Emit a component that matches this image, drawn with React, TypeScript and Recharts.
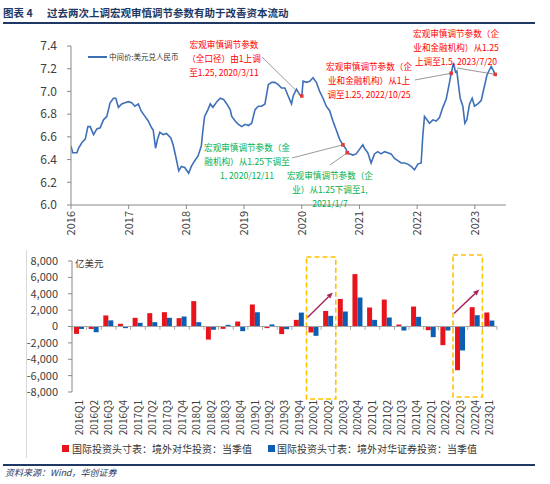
import React from "react";
import {
  LineChart,
  Line,
  BarChart,
  Bar,
  XAxis,
  YAxis,
  ReferenceLine,
  ReferenceDot,
  ReferenceArea,
} from "recharts";

const FONT = '"Noto Sans CJK SC", "Noto Sans", sans-serif';
const NAVY = "#1f3864";
const RED = "#e8141c";
const BLUE = "#0b5fb3";
const LINE_BLUE = "#3e70b8";
const AXIS = "#898989";
const TEXT = "#404040";

// 中间价:美元兑人民币 (t = position on the chart's year axis)
const fxTime = [
  2016.0, 2016.029, 2016.103, 2016.132, 2016.19, 2016.247, 2016.293, 2016.333, 2016.391, 2016.448,
  2016.506, 2016.563, 2016.621, 2016.678, 2016.736, 2016.776, 2016.822, 2016.879, 2016.937, 2016.994,
  2017.052, 2017.109, 2017.167, 2017.213, 2017.282, 2017.339, 2017.397, 2017.425, 2017.466, 2017.5,
  2017.54, 2017.598, 2017.655, 2017.73, 2017.77, 2017.81, 2017.868, 2017.914, 2017.971, 2018.04,
  2018.086, 2018.144, 2018.201, 2018.259, 2018.287, 2018.316, 2018.374, 2018.414, 2018.46, 2018.529,
  2018.586, 2018.644, 2018.701, 2018.759, 2018.787, 2018.845, 2018.902, 2018.96, 2019.017, 2019.075,
  2019.132, 2019.19, 2019.247, 2019.305, 2019.362, 2019.42, 2019.477, 2019.534, 2019.592, 2019.649,
  2019.707, 2019.764, 2019.822, 2019.851, 2019.908, 2019.966, 2020.0, 2020.023, 2020.08, 2020.138,
  2020.195, 2020.253, 2020.31, 2020.368, 2020.425, 2020.483, 2020.54, 2020.598, 2020.655, 2020.713,
  2020.77, 2020.787, 2020.885, 2020.942, 2021.0, 2021.058, 2021.087, 2021.145, 2021.202, 2021.26,
  2021.318, 2021.376, 2021.434, 2021.491, 2021.549, 2021.607, 2021.665, 2021.723, 2021.78, 2021.838,
  2021.896, 2021.954, 2022.012, 2022.069, 2022.098, 2022.127, 2022.156, 2022.214, 2022.272, 2022.329,
  2022.387, 2022.445, 2022.503, 2022.561, 2022.59, 2022.63, 2022.665, 2022.688, 2022.711, 2022.746,
  2022.792, 2022.827, 2022.861, 2022.908, 2022.954, 2022.994, 2023.052, 2023.11, 2023.168, 2023.208,
  2023.243, 2023.283, 2023.324, 2023.353,
];
const fxRate = [
  6.52, 6.46, 6.46, 6.5, 6.55, 6.58, 6.69, 6.69, 6.62, 6.67,
  6.68, 6.75, 6.78, 6.9, 6.94, 6.94, 6.86, 6.89, 6.9, 6.91,
  6.9, 6.87, 6.89, 6.83, 6.78, 6.74, 6.68, 6.66, 6.5, 6.58,
  6.64, 6.62, 6.63, 6.59, 6.53, 6.44, 6.3, 6.34, 6.33, 6.28,
  6.34, 6.39, 6.43, 6.52, 6.66, 6.78, 6.84, 6.89, 6.86, 6.91,
  6.94, 6.93, 6.89, 6.84, 6.78, 6.74, 6.71, 6.69, 6.71, 6.7,
  6.72, 6.84, 6.87, 6.87, 6.89, 7.06, 7.08, 7.08, 7.06, 7.03,
  7.03, 6.96, 6.89, 6.96, 7.02, 6.97, 6.96, 7.09, 7.08, 7.09,
  7.12, 7.08, 7.0, 6.94, 6.87, 6.83, 6.74, 6.66, 6.58, 6.53,
  6.49, 6.46, 6.44, 6.45, 6.49, 6.53, 6.5, 6.46, 6.37, 6.45,
  6.47, 6.45, 6.47, 6.46, 6.45, 6.41, 6.39, 6.37, 6.37, 6.36,
  6.34, 6.31, 6.36, 6.37, 6.61, 6.78, 6.76, 6.72, 6.75, 6.74,
  6.77, 6.86, 6.93, 7.08, 7.16, 7.25, 7.17, 7.18, 7.08, 6.94,
  6.87, 6.72, 6.75, 6.89, 6.94, 6.87, 6.89, 6.92, 7.05, 7.14,
  7.18, 7.22, 7.18, 7.15,
];
const yearTicks = [2016, 2017, 2018, 2019, 2020, 2021, 2022, 2023];
const rateTicks = [6.0, 6.2, 6.4, 6.6, 6.8, 7.0, 7.2, 7.4];

// 国际投资头寸表, 亿美元
const quarters = [
  "2016Q1", "2016Q2", "2016Q3", "2016Q4", "2017Q1", "2017Q2", "2017Q3", "2017Q4",
  "2018Q1", "2018Q2", "2018Q3", "2018Q4", "2019Q1", "2019Q2", "2019Q3", "2019Q4",
  "2020Q1", "2020Q2", "2020Q3", "2020Q4", "2021Q1", "2021Q2", "2021Q3", "2021Q4",
  "2022Q1", "2022Q2", "2022Q3", "2022Q4", "2023Q1",
];
const inwardInvest = [
  -900, -300, 1350, 330, 1060, 1630, 1750, 1020, 3100, -1600, -290, 610, 2690, -200, -930, 810,
  -730, 1900, 3370, 6400, 2320, 3290, 240, 2440, -450, -2280, -5340, 2360, 1710,
];
const inwardPortfolio = [
  -300, -700, 750, -200, 450, 530, 1060, 1220, 530, -400, 200, -570, 1750, 250, -330, 1700,
  -1140, 1300, 1830, 3540, 810, 1100, -490, 1180, -1300, -490, -2930, 1380, 730,
];
const flowTicks = [-8000, -6000, -4000, -2000, 0, 2000, 4000, 6000, 8000];

// annotations: text anchor, leader start, marked point (chart coordinates)
const notes = [
  {
    lines: ["宏观审慎调节参数", "（全口径）由1上调", "至1.25, 2020/3/11"],
    color: "#ff0000",
    text: [2018.652, 7.418],
    from: [2019.311, 7.303],
    point: [2020.0, 6.96],
  },
  {
    lines: ["宏观审慎调节参数（金", "融机构）从1.25下调至", "1, 2020/12/11"],
    color: "#00b050",
    text: [2019.051, 6.511],
    from: [2019.831, 6.414],
    point: [2020.713, 6.53],
  },
  {
    lines: ["宏观审慎调节参数（企", "业）从1.25下调至1,", "2021/1/7"],
    color: "#00b050",
    text: [2020.489, 6.264],
    from: [2020.489, 6.352],
    point: [2020.787, 6.46],
  },
  {
    lines: ["宏观审慎调节参数（企", "业和金融机构）从1上", "调至1.25, 2022/10/25"],
    color: "#ff0000",
    text: [2021.166, 7.224],
    from: [2021.963, 7.101],
    point: [2022.59, 7.16],
  },
  {
    lines: ["宏观审慎调节参数（企", "业和金融机构）从1.25", "上调至1.5, 2023/7/20"],
    color: "#ff0000",
    text: [2022.674, 7.514],
    from: [2022.691, 7.206],
    point: [2023.353, 7.15],
  },
];

// highlighted periods and arrows in the bar chart
const boxes = [
  { from: "2020Q1", to: "2020Q2", low: -8850, high: 8490 },
  { from: "2022Q3", to: "2022Q4", low: -8610, high: 8730 },
];
const arrows = [
  { from: "2020Q1", to: "2020Q2", low: 1100, high: 4150 },
  { from: "2022Q3", to: "2022Q4", low: 1590, high: 4520 },
];

const fxData = fxTime.map((t, i) => ({ t, rate: fxRate[i] }));
const flowData = quarters.map((q, i) => ({
  q,
  invest: inwardInvest[i],
  portfolio: inwardPortfolio[i],
}));

const RotatedTick = ({ x, y, payload, size }: any) => (
  <text
    x={x}
    y={y}
    transform={`rotate(-90 ${x} ${y})`}
    textAnchor="end"
    dy="0.36em"
    fontSize={size}
    fill={TEXT}
    fontFamily={FONT}
  >
    {payload.value}
  </text>
);

const NoteText = ({ cx, cy, lines, color }: any) => (
  <g>
    {lines.map((s: string, i: number) => (
      <text
        key={i}
        x={cx}
        y={cy + i * 14}
        textAnchor="middle"
        dominantBaseline="central"
        fontSize={8.6}
        fill={color}
        fontFamily={FONT}
      >
        {s}
      </text>
    ))}
  </g>
);

const Arrow = ({ x, y, width, height }: any) => {
  const x0 = x + 1;
  const y0 = y + height;
  const x1 = x + width - 3;
  const y1 = y;
  const a = Math.atan2(y1 - y0, x1 - x0);
  const len = 6;
  const w = 2.6;
  const bx = x1 - len * Math.cos(a);
  const by = y1 - len * Math.sin(a);
  const pts = [
    `${x1},${y1}`,
    `${bx + w * Math.sin(a)},${by - w * Math.cos(a)}`,
    `${bx - w * Math.sin(a)},${by + w * Math.cos(a)}`,
  ].join(" ");
  return (
    <g>
      <line x1={x0} y1={y0} x2={bx} y2={by} stroke="#a8235c" strokeWidth={1.4} />
      <polygon points={pts} fill="#a8235c" />
    </g>
  );
};

const ZeroTick = ({ x, y, width, height, last }: any) => (
  <g>
    <line x1={x} x2={x} y1={y} y2={y + height} stroke="#a6a6a6" />
    {last && <line x1={x + width} x2={x + width} y1={y} y2={y + height} stroke="#a6a6a6" />}
  </g>
);

export default function App() {
  return (
    <div
      style={{
        position: "absolute",
        left: 0,
        top: 0,
        width: 550,
        height: 484,
        background: "#fff",
        fontFamily: FONT,
        overflow: "hidden",
      }}
    >
      <div
        style={{
          position: "absolute",
          left: 3,
          top: 5,
          fontSize: 10.5,
          fontWeight: 700,
          color: NAVY,
          lineHeight: "16px",
          whiteSpace: "nowrap",
        }}
      >
        <span>图表 4</span>
        <span style={{ position: "absolute", left: 44 }}>
          过去两次上调宏观审慎调节参数有助于改善资本流动
        </span>
      </div>
      <div style={{ position: "absolute", left: 3, top: 22, width: 532, height: 2, background: NAVY }} />

      <div style={{ position: "absolute", left: 0, top: 0 }}>
        <LineChart
          width={550}
          height={250}
          data={fxData}
          margin={{ top: 46, right: 44, bottom: 5, left: 0 }}
        >
          <XAxis
            type="number"
            dataKey="t"
            domain={[2016, 2023.54]}
            ticks={yearTicks}
            interval={0}
            allowDataOverflow
            height={40}
            tickSize={4}
            tickMargin={2}
            stroke={AXIS}
            tick={<RotatedTick size={11} />}
          />
          <YAxis
            domain={[6, 7.4]}
            ticks={rateTicks}
            interval={0}
            width={71}
            tickSize={4}
            tickMargin={10}
            stroke={AXIS}
            tickFormatter={(v: number) => v.toFixed(1)}
            tick={{ fontSize: 12, fill: TEXT, fontFamily: FONT }}
          />
          <Line
            type="linear"
            dataKey="rate"
            stroke={LINE_BLUE}
            strokeWidth={1.6}
            dot={false}
            isAnimationActive={false}
          />
          {notes.map((n, i) => (
            <ReferenceLine
              key={`l${i}`}
              segment={[
                { x: n.from[0], y: n.from[1] },
                { x: n.point[0], y: n.point[1] },
              ]}
              stroke="#7f7f7f"
              strokeWidth={0.8}
              ifOverflow="visible"
            />
          ))}
          {notes.map((n, i) => (
            <ReferenceDot
              key={`p${i}`}
              x={n.point[0]}
              y={n.point[1]}
              ifOverflow="visible"
              shape={(p: any) => (
                <rect x={p.cx - 1.8} y={p.cy - 1.8} width={3.6} height={3.6} fill="#e03c3c" />
              )}
            />
          ))}
          {notes.map((n, i) => (
            <ReferenceDot
              key={`t${i}`}
              x={n.text[0]}
              y={n.text[1]}
              ifOverflow="visible"
              shape={(p: any) => <NoteText cx={p.cx} cy={p.cy} lines={n.lines} color={n.color} />}
            />
          ))}
        </LineChart>
      </div>

      <div style={{ position: "absolute", left: 88, top: 56, width: 19, height: 2, background: LINE_BLUE }} />
      <div
        style={{
          position: "absolute",
          left: 109,
          top: 51,
          fontSize: 7.5,
          lineHeight: "12px",
          color: "#333",
          whiteSpace: "nowrap",
        }}
      >
        中间价:美元兑人民币
      </div>

      <div style={{ position: "absolute", left: 26, top: 250, width: 1, height: 208, background: "#d9d9d9" }} />

      <div style={{ position: "absolute", left: 0, top: 240 }}>
        <BarChart
          width={550}
          height={200}
          data={flowData}
          margin={{ top: 21, right: 53, bottom: 0, left: 0 }}
          barGap={0}
          barSize={5}
        >
          <XAxis
            dataKey="q"
            interval={0}
            axisLine={false}
            tickLine={false}
            tickSize={0}
            tickMargin={8}
            height={48}
            tick={<RotatedTick size={10} />}
          />
          <YAxis
            domain={[-8000, 8000]}
            ticks={flowTicks}
            interval={0}
            width={72}
            tickSize={4}
            tickMargin={10}
            stroke={AXIS}
            tickFormatter={(v: number) => v.toLocaleString("en-US")}
            tick={{ fontSize: 11, fill: TEXT, fontFamily: FONT }}
          />
          <ReferenceLine y={0} stroke="#a6a6a6" />
          {quarters.map((q, i) => (
            <ReferenceArea
              key={q}
              x1={q}
              x2={q}
              y1={-400}
              y2={0}
              ifOverflow="visible"
              shape={(p: any) => <ZeroTick {...p} last={i === quarters.length - 1} />}
            />
          ))}
          <Bar dataKey="invest" fill={RED} isAnimationActive={false} />
          <Bar dataKey="portfolio" fill={BLUE} isAnimationActive={false} />
          {boxes.map((b, i) => (
            <ReferenceArea
              key={`b${i}`}
              x1={b.from}
              x2={b.to}
              y1={b.low}
              y2={b.high}
              ifOverflow="visible"
              fill="none"
              stroke="#ffc000"
              strokeWidth={1.6}
              strokeDasharray="5 3"
            />
          ))}
          {arrows.map((a, i) => (
            <ReferenceArea
              key={`a${i}`}
              x1={a.from}
              x2={a.to}
              y1={a.low}
              y2={a.high}
              ifOverflow="visible"
              shape={(p: any) => <Arrow {...p} />}
            />
          ))}
        </BarChart>
      </div>

      <div
        style={{
          position: "absolute",
          left: 75,
          top: 256,
          fontSize: 9.5,
          lineHeight: "14px",
          color: "#333",
          whiteSpace: "nowrap",
        }}
      >
        亿美元
      </div>

      <div style={{ position: "absolute", left: 62, top: 445, width: 7, height: 7, background: RED }} />
      <div
        style={{
          position: "absolute",
          left: 72,
          top: 441,
          fontSize: 10,
          lineHeight: "15px",
          color: "#333",
          whiteSpace: "nowrap",
        }}
      >
        国际投资头寸表：境外对华投资：当季值
      </div>
      <div style={{ position: "absolute", left: 268, top: 445, width: 7, height: 7, background: BLUE }} />
      <div
        style={{
          position: "absolute",
          left: 277,
          top: 441,
          fontSize: 10,
          lineHeight: "15px",
          color: "#333",
          whiteSpace: "nowrap",
        }}
      >
        国际投资头寸表：境外对华证券投资：当季值
      </div>

      <div style={{ position: "absolute", left: 3, top: 464, width: 532, height: 2, background: NAVY }} />
      <div
        style={{
          position: "absolute",
          left: 5,
          top: 467,
          fontSize: 9,
          fontStyle: "italic",
          lineHeight: "12px",
          color: NAVY,
          whiteSpace: "nowrap",
        }}
      >
        资料来源：Wind，华创证券
      </div>
    </div>
  );
}
